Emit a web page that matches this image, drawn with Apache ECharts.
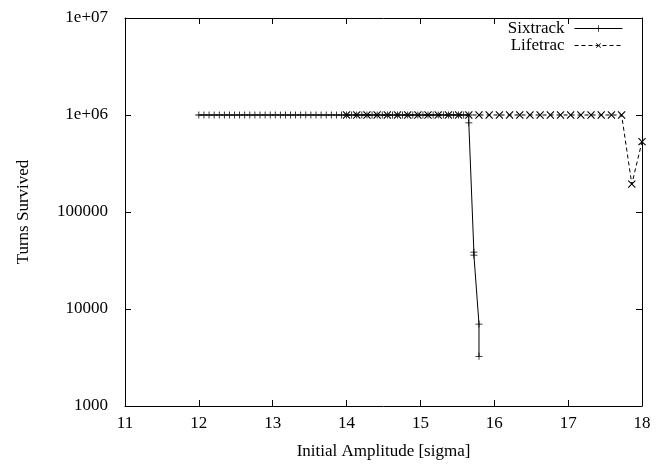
<!DOCTYPE html>
<html>
<head>
<meta charset="utf-8">
<script src="https://cdn.jsdelivr.net/npm/echarts@6/dist/echarts.min.js"></script>
<style>
  html, body { margin: 0; padding: 0; background: #fff; }
  #chart { width: 658px; height: 466px; }
</style>
</head>
<body>
<div id="chart"></div>
<script>
// Sixtrack: initial amplitude [sigma] and turns survived
const sixtrackX = [
  12.000, 12.069, 12.138, 12.207, 12.276, 12.345, 12.414, 12.483, 12.552, 12.621,
  12.690, 12.759, 12.828, 12.897, 12.966, 13.034, 13.103, 13.172, 13.241, 13.310,
  13.379, 13.448, 13.517, 13.586, 13.655, 13.724, 13.793, 13.862, 13.931, 14.000,
  14.069, 14.138, 14.207, 14.276, 14.345, 14.414, 14.483, 14.552, 14.621, 14.690,
  14.759, 14.828, 14.897, 14.966, 15.034, 15.103, 15.172, 15.241, 15.310, 15.379,
  15.448, 15.517, 15.586, 15.655, 15.655, 15.724, 15.724, 15.793, 15.793
];
const sixtrackTurns = [
  1000000, 1000000, 1000000, 1000000, 1000000, 1000000, 1000000, 1000000, 1000000, 1000000,
  1000000, 1000000, 1000000, 1000000, 1000000, 1000000, 1000000, 1000000, 1000000, 1000000,
  1000000, 1000000, 1000000, 1000000, 1000000, 1000000, 1000000, 1000000, 1000000, 1000000,
  1000000, 1000000, 1000000, 1000000, 1000000, 1000000, 1000000, 1000000, 1000000, 1000000,
  1000000, 1000000, 1000000, 1000000, 1000000, 1000000, 1000000, 1000000, 1000000, 1000000,
  1000000, 1000000, 1000000, 1000000, 830000, 38500, 36000, 7000, 3250
];

// Lifetrac: initial amplitude [sigma] and turns survived
const lifetracX = [
  14.000, 14.138, 14.276, 14.414, 14.552, 14.690, 14.828, 14.966, 15.103, 15.241,
  15.379, 15.517, 15.655, 15.793, 15.931, 16.069, 16.207, 16.345, 16.483, 16.621,
  16.759, 16.897, 17.034, 17.172, 17.310, 17.448, 17.586, 17.724, 17.862, 18.000
];
const lifetracTurns = [
  1000000, 1000000, 1000000, 1000000, 1000000, 1000000, 1000000, 1000000, 1000000, 1000000,
  1000000, 1000000, 1000000, 1000000, 1000000, 1000000, 1000000, 1000000, 1000000, 1000000,
  1000000, 1000000, 1000000, 1000000, 1000000, 1000000, 1000000, 1000000, 194000, 531000
];

// Tick labels of the log axis, printed gnuplot-style
const yTickValues = [1000, 10000, 100000, 1000000, 10000000];
const yTickLabels = ['1000', '10000', '100000', '1e+06', '1e+07'];

const zip = (xs, ys) => xs.map((x, i) => [x, ys[i]]);

const FONT = 'Liberation Serif';
const plusPath = 'path://M4.45,0H5.55V4.45H10V5.55H5.55V10H4.45V5.55H0V4.45H4.45Z';

const axisText = { color: '#000', fontFamily: FONT, fontSize: 17 };
const frameLine = { show: true, lineStyle: { color: '#000', width: 1 } };
const inTick = { show: true, inside: true, length: 6, lineStyle: { color: '#000', width: 1 } };

const chart = echarts.init(document.getElementById('chart'), null, { renderer: 'canvas' });

chart.setOption({
  animation: false,
  backgroundColor: '#fff',
  grid: { left: 125, right: 16, top: 18, bottom: 60, containLabel: false },
  legend: {
    right: 30,
    top: 15,
    orient: 'vertical',
    align: 'right',
    itemWidth: 48,
    itemHeight: 8,
    itemGap: 0,
    lineStyle: { width: 1 },
    textStyle: { color: '#000', fontFamily: FONT, fontSize: 17, padding: [0, 5, 0, 0] },
    data: ['Sixtrack', 'Lifetrac']
  },
  xAxis: [
    {
      type: 'value',
      min: 11,
      max: 18,
      interval: 1,
      position: 'bottom',
      name: 'Initial Amplitude [sigma]',
      nameLocation: 'middle',
      nameGap: 37,
      nameTextStyle: axisText,
      axisLine: frameLine,
      axisTick: inTick,
      axisLabel: Object.assign({ margin: 9 }, axisText),
      splitLine: { show: false }
    },
    {
      type: 'value',
      min: 11,
      max: 18,
      interval: 1,
      position: 'top',
      axisLine: frameLine,
      axisTick: inTick,
      axisLabel: { show: false },
      splitLine: { show: false }
    }
  ],
  yAxis: [
    {
      type: 'log',
      logBase: 10,
      min: 1000,
      max: 10000000,
      position: 'left',
      name: 'Turns Survived',
      nameLocation: 'middle',
      nameGap: 93,
      nameRotate: 90,
      nameTextStyle: axisText,
      axisLine: frameLine,
      axisTick: inTick,
      axisLabel: Object.assign({
        margin: 17,
        formatter: v => {
          const i = yTickValues.findIndex(t => Math.abs(Math.log10(t) - Math.log10(v)) < 1e-6);
          return i >= 0 ? yTickLabels[i] : '';
        }
      }, axisText),
      splitLine: { show: false }
    },
    {
      type: 'log',
      logBase: 10,
      min: 1000,
      max: 10000000,
      position: 'right',
      axisLine: frameLine,
      axisTick: inTick,
      axisLabel: { show: false },
      splitLine: { show: false }
    }
  ],
  series: [
    {
      name: 'Sixtrack',
      type: 'line',
      data: zip(sixtrackX, sixtrackTurns),
      symbol: plusPath,
      symbolSize: 7,
      showAllSymbol: true,
      color: '#000',
      itemStyle: { color: '#000' },
      lineStyle: { color: '#000', width: 1, type: 'solid' },
      z: 3
    },
    {
      name: 'Lifetrac',
      type: 'line',
      data: zip(lifetracX, lifetracTurns),
      symbol: plusPath,
      symbolRotate: 45,
      symbolSize: 10,
      showAllSymbol: true,
      color: '#000',
      itemStyle: { color: '#000' },
      lineStyle: { color: '#000', width: 1, type: [4, 3] },
      z: 2
    }
  ]
});
</script>
</body>
</html>
